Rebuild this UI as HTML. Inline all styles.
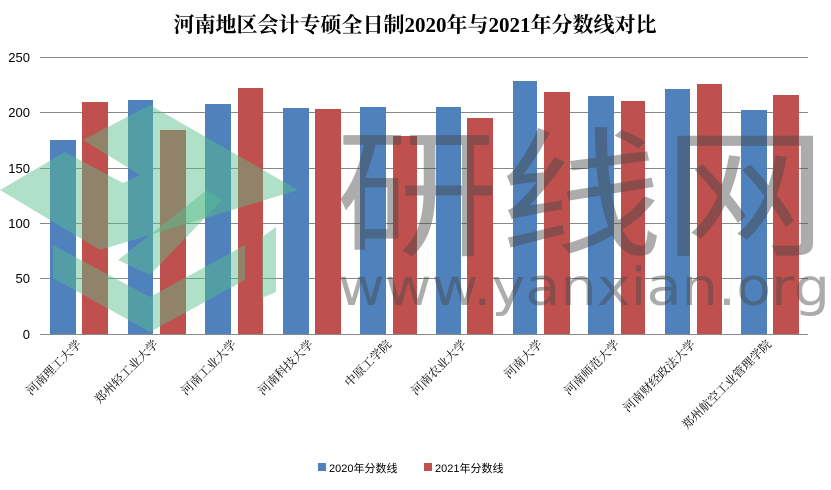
<!DOCTYPE html>
<html><head><meta charset="utf-8"><style>
body{margin:0;background:#fff;}
svg{display:block}
</style></head><body>
<svg width="831" height="490" xmlns="http://www.w3.org/2000/svg">
<text x="415" y="32" text-anchor="middle" font-family="'Liberation Serif','Noto Serif CJK SC',serif" font-weight="bold" font-size="21" fill="#000">河南地区会计专硕全日制2020年与2021年分数线对比</text>
<g stroke="#888" stroke-width="1">
<line x1="40" y1="57.5" x2="808" y2="57.5"/>
<line x1="40" y1="112.5" x2="808" y2="112.5"/>
<line x1="40" y1="168.5" x2="808" y2="168.5"/>
<line x1="40" y1="223.5" x2="808" y2="223.5"/>
<line x1="40" y1="278.5" x2="808" y2="278.5"/>
<line x1="40" y1="334.5" x2="808" y2="334.5"/>
</g>
<g font-family="'Liberation Sans',sans-serif" font-size="13" fill="#000" text-anchor="end">
<text x="30" y="62">250</text><text x="30" y="117">200</text><text x="30" y="173">150</text>
<text x="30" y="228">100</text><text x="30" y="283">50</text><text x="30" y="339">0</text>
</g>
<g fill="#4f81bd">
<rect x="50" y="140" width="26" height="194"/>
<rect x="128" y="100" width="25" height="234"/>
<rect x="205" y="104" width="26" height="230"/>
<rect x="283" y="108" width="26" height="226"/>
<rect x="360" y="107" width="26" height="227"/>
<rect x="436" y="107" width="25" height="227"/>
<rect x="513" y="81" width="24" height="253"/>
<rect x="588" y="96" width="26" height="238"/>
<rect x="665" y="89" width="25" height="245"/>
<rect x="741" y="110" width="26" height="224"/>
</g>
<g fill="#c0504d">
<rect x="82" y="102" width="26" height="232"/>
<rect x="160" y="130" width="26" height="204"/>
<rect x="238" y="88" width="25" height="246"/>
<rect x="315" y="109" width="26" height="225"/>
<rect x="393" y="136" width="24" height="198"/>
<rect x="467" y="118" width="26" height="216"/>
<rect x="544" y="92" width="26" height="242"/>
<rect x="621" y="101" width="24" height="233"/>
<rect x="697" y="84" width="25" height="250"/>
<rect x="773" y="95" width="26" height="239"/>
</g>
<g fill="rgba(90,190,140,0.47)">
<polygon points="0,190 65,152 123,183 140,175 83,140 150,105 298,190 100,250"/>
<polygon points="118,260 207,190 222,200 150,275"/>
<polygon points="53,245 150,297 245,245 245,280 150,332 53,278"/>
<polygon points="262,237 276,227 276,292 262,298"/>
</g>
<text x="335" y="245" font-family="'Noto Sans CJK SC',sans-serif" font-size="140" fill="rgba(70,70,70,0.45)" textLength="492" lengthAdjust="spacingAndGlyphs">研线网</text>
<text x="338" y="305" font-family="'DejaVu Sans','Liberation Sans',sans-serif" font-size="52" fill="rgba(70,70,70,0.45)" textLength="492" lengthAdjust="spacingAndGlyphs">www.yanxian.org</text>
<g font-family="'Liberation Serif','Noto Serif CJK SC',serif" font-size="12" fill="#000" text-anchor="end">
<text transform="translate(82,345) rotate(-45)">河南理工大学</text>
<text transform="translate(159,345) rotate(-45)">郑州轻工业大学</text>
<text transform="translate(237,345) rotate(-45)">河南工业大学</text>
<text transform="translate(314,345) rotate(-45)">河南科技大学</text>
<text transform="translate(392,345) rotate(-45)">中原工学院</text>
<text transform="translate(467,345) rotate(-45)">河南农业大学</text>
<text transform="translate(543,345) rotate(-45)">河南大学</text>
<text transform="translate(620,345) rotate(-45)">河南师范大学</text>
<text transform="translate(696,345) rotate(-45)">河南财经政法大学</text>
<text transform="translate(772,345) rotate(-45)">郑州航空工业管理学院</text>
</g>
<rect x="318" y="463" width="8" height="8" fill="#4f81bd"/>
<text x="329" y="472" font-family="'Liberation Sans','Noto Sans CJK SC',sans-serif" font-size="11">2020年分数线</text>
<rect x="424" y="463" width="8" height="8" fill="#c0504d"/>
<text x="435" y="472" font-family="'Liberation Sans','Noto Sans CJK SC',sans-serif" font-size="11">2021年分数线</text>
</svg>
</body></html>
